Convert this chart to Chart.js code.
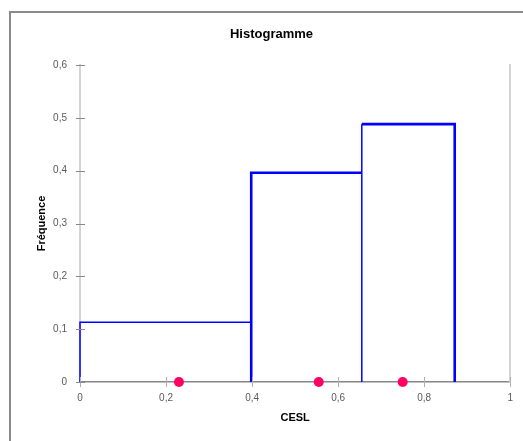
<!DOCTYPE html>
<html>
<head>
<meta charset="utf-8">
<script src="https://cdn.jsdelivr.net/npm/chart.js@4/dist/chart.umd.min.js"></script>
<style>
  html, body { margin: 0; padding: 0; background: #fff; overflow: hidden; }
  #frame { position: absolute; left: 9px; top: 11px; width: 600px; height: 500px; border: 2px solid #8a8a8a; }
  #wrap { position: absolute; left: 0; top: 0; width: 523px; height: 441px; }
</style>
</head>
<body>
<div id="frame"></div>
<div id="wrap"><canvas id="chart"></canvas></div>
<script>
const binEdges = [0, 0.398, 0.655, 0.871];
const binFreq = [0.113, 0.396, 0.488];
const cesl = [0.230, 0.555, 0.750];
const xTickLabels = ['0', '0,2', '0,4', '0,6', '0,8', '1'];
const yTickLabels = ['0', '0,1', '0,2', '0,3', '0,4', '0,5', '0,6'];

const blue = '#0000ff';
const thin = 1.5, thick = 2.6;

function seg(points, width) {
    return {
        data: points.map(p => ({x: p[0], y: p[1]})),
        showLine: true,
        borderColor: blue,
        borderWidth: width,
        pointRadius: 0,
        fill: false,
        clip: false
    };
}

// histogram outline, drawn the way the original plots it
const outline = [
    seg([[binEdges[0], 0], [binEdges[0], binFreq[0]], [binEdges[1], binFreq[0]]], thin),
    seg([[binEdges[1], 0], [binEdges[1], binFreq[1]], [binEdges[2], binFreq[1]]], thick),
    seg([[binEdges[2], 0], [binEdges[2], binFreq[2]]], thin),
    seg([[binEdges[2], binFreq[2]], [binEdges[3], binFreq[2]], [binEdges[3], 0]], thick)
];

const dots = {
    data: cesl.map(v => ({x: v, y: 0})),
    showLine: false,
    pointRadius: 5,
    pointHoverRadius: 5,
    pointBackgroundColor: '#ff0066',
    pointBorderColor: '#ff0066',
    borderWidth: 0,
    clip: false
};

// little tick marks crossing both axes
const crossTicks = {
    id: 'crossTicks',
    afterDraw(chart) {
        const ctx = chart.ctx;
        const xs = chart.scales.x, ys = chart.scales.y;
        const area = chart.chartArea;
        ctx.save();
        ctx.lineWidth = 1;
        ctx.strokeStyle = '#b0b0b0';
        xs.ticks.forEach(t => {
            const px = Math.round(xs.getPixelForValue(t.value)) + 0.5;
            ctx.beginPath();
            ctx.moveTo(px, area.bottom - 5);
            ctx.lineTo(px, area.bottom + 5);
            ctx.stroke();
        });
        ctx.strokeStyle = '#8a8a8a';
        ys.ticks.forEach(t => {
            const py = Math.round(ys.getPixelForValue(t.value)) + 0.5;
            ctx.beginPath();
            ctx.moveTo(area.left - 4, py);
            ctx.lineTo(area.left + 5, py);
            ctx.stroke();
        });
        ctx.restore();
    }
};

const tickFont = {family: 'Liberation Sans', size: 10};
const titleFont = {family: 'Liberation Sans', size: 11, weight: 'bold'};

new Chart(document.getElementById('chart'), {
    type: 'scatter',
    data: { datasets: [dots, ...outline] },
    options: {
        responsive: true,
        maintainAspectRatio: false,
        animation: false,
        events: [],
        layout: { padding: { left: 20, right: 0, top: 0, bottom: 0 } },
        plugins: {
            legend: { display: false },
            tooltip: { enabled: false },
            title: {
                display: true,
                text: 'Histogramme',
                color: '#000',
                font: {family: 'Liberation Sans', size: 13, weight: 'bold'},
                padding: { top: 27, bottom: 22.4 }
            }
        },
        scales: {
            x: {
                type: 'linear',
                min: 0, max: 1,
                afterFit: s => { s.height = 59; },
                ticks: {
                    stepSize: 0.2,
                    padding: 10,
                    color: '#595959',
                    font: tickFont,
                    maxRotation: 0,
                    callback: (v, i) => xTickLabels[i]
                },
                grid: { display: false, drawTicks: false },
                border: { display: true, color: '#868686', width: 1.5 },
                title: {
                    display: true,
                    text: 'CESL',
                    color: '#000',
                    font: titleFont,
                    padding: { top: 4, bottom: 16 }
                }
            },
            y: {
                type: 'linear',
                min: 0, max: 0.6,
                afterFit: s => { s.width = 60; },
                ticks: {
                    stepSize: 0.1,
                    padding: 13,
                    color: '#595959',
                    font: tickFont,
                    callback: (v, i) => yTickLabels[i]
                },
                grid: { display: false, drawTicks: false },
                border: { display: true, color: '#d4d4d4', width: 2 },
                title: {
                    display: true,
                    text: 'Fréquence',
                    color: '#000',
                    font: titleFont,
                    padding: { top: 15.5, bottom: 4 }
                }
            },
            y2: {
                type: 'linear',
                position: 'right',
                min: 0, max: 0.6,
                afterFit: s => { s.width = 12; },
                ticks: { display: false },
                grid: { display: false, drawTicks: false },
                border: { display: true, color: '#d4d4d4', width: 2 }
            }
        }
    },
    plugins: [crossTicks]
});
</script>
</body>
</html>
